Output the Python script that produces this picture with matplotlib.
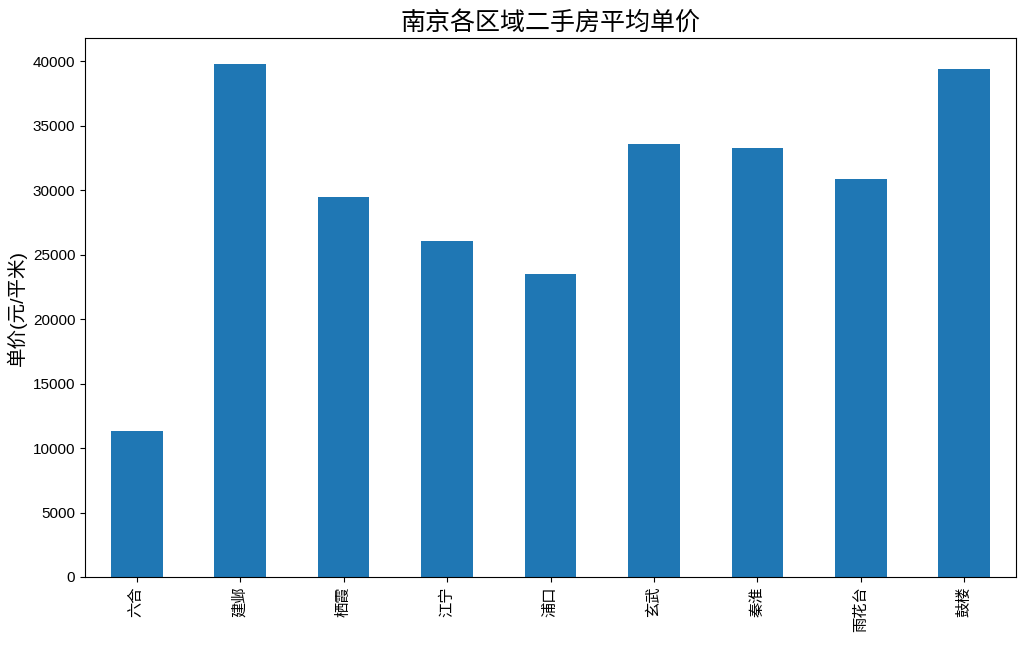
import matplotlib
matplotlib.use("Agg")
import matplotlib.pyplot as plt

plt.rcParams['font.family'] = ['Liberation Sans', 'Noto Sans CJK SC', 'DejaVu Sans']
plt.rcParams['axes.unicode_minus'] = False

districts = ['六合', '建邺', '栖霞', '江宁', '浦口', '玄武', '秦淮', '雨花台', '鼓楼']
avg_price = [11335, 39830, 29500, 26090, 23525, 33620, 33310, 30900, 39440]

fig = plt.figure(figsize=(10.24, 6.47), dpi=100)
ax = fig.add_axes([85/1024, 1 - 577/647, (1016-85)/1024, (577-38)/647])
x = list(range(len(districts)))
ax.bar(x, avg_price, width=0.5, color='#1f77b4')
ax.set_xlim(-0.5, len(districts) - 0.5)
ax.set_xticks(x)
ax.set_xticklabels(districts, rotation=90, fontsize=11)
ax.tick_params(axis='y', labelsize=11)
ax.set_ylabel('单价(元/平米)', fontsize=14)
ax.set_title('南京各区域二手房平均单价', fontsize=18, fontweight='medium')

fig.savefig('out.png', dpi=100)
